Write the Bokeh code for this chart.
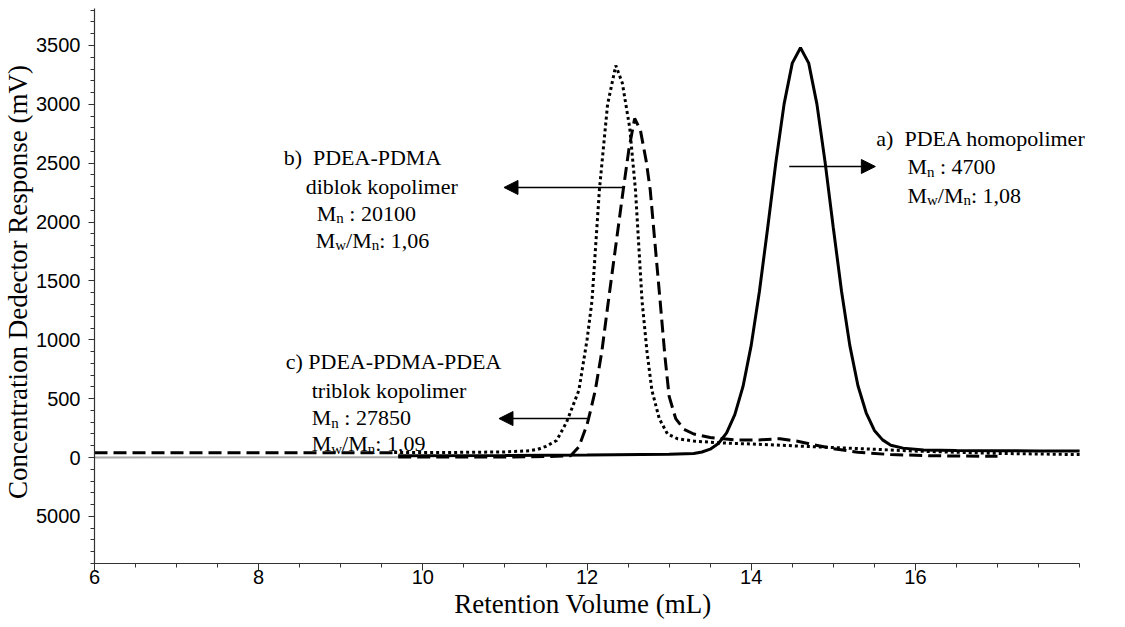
from bokeh.plotting import figure
from bokeh.models import FixedTicker, Arrow, NormalHead, Range1d, Label
from bokeh.embed import file_html
from bokeh.resources import INLINE

# ---------------- data ----------------
grey_x = [6.0, 9.7]
grey_y = [0, 3]

# a) PDEA homopolymer (solid)
solid_x = [9.7, 11.0, 12.0, 13.0, 13.3, 13.4, 13.5, 13.6, 13.7, 13.8, 13.9, 14.0, 14.1, 14.2,
           14.3, 14.4, 14.5, 14.6, 14.7, 14.8, 14.9, 15.0, 15.1, 15.2, 15.3, 15.4, 15.5, 15.6,
           15.7, 15.85, 16.1, 16.5, 17.0, 17.5, 18.0]
solid_y = [15, 18, 22, 28, 35, 47, 71, 119, 209, 364, 604, 955, 1413, 1950,
           2507, 3002, 3350, 3480, 3350, 3002, 2507, 1950, 1413, 955, 610, 380, 230, 150,
           105, 80, 65, 60, 58, 56, 55]

# b) PDEA-PDMA diblock (dotted)
dot_x = [9.65, 10.5, 11.0, 11.3, 11.4, 11.5, 11.63, 11.75, 11.9, 12.0, 12.06, 12.15, 12.25,
         12.35, 12.43, 12.52, 12.59, 12.63, 12.67, 12.73, 12.79, 12.88, 12.98, 13.1, 13.3,
         13.6, 14.0, 14.5, 15.0, 15.5, 16.0, 16.5, 17.0, 17.5, 18.0]
dot_y = [42, 44, 48, 58, 70, 95, 145, 300, 570, 1000, 1330, 2270, 3000,
         3330, 3180, 2800, 2270, 1800, 1330, 900, 570, 330, 200, 160, 140,
         125, 115, 100, 85, 70, 55, 45, 35, 30, 25]

# c) PDEA-PDMA-PDEA triblock (dashed): early segment and main trace
dash1_x = [6.0, 9.65]
dash1_y = [40, 40]
dash_x = [9.7, 11.0, 11.5, 11.8, 11.9, 12.0, 12.05, 12.1, 12.18, 12.26, 12.35, 12.44, 12.51,
          12.58, 12.65, 12.72, 12.77, 12.83, 12.89, 12.95, 13.0, 13.08, 13.18, 13.3, 13.5,
          13.8, 14.1, 14.35, 14.55, 14.75, 15.0, 15.3, 15.7, 16.2, 17.0]
dash_y = [5, 5, 8, 15, 90, 280, 420, 570, 900, 1330, 1800, 2270, 2620,
          2880, 2780, 2520, 2270, 1800, 1330, 850, 520, 330, 240, 200, 170,
          150, 150, 160, 140, 110, 75, 45, 25, 15, 10]

x_major = [6, 8, 10, 12, 14, 16]
y_major = [-500, 0, 500, 1000, 1500, 2000, 2500, 3000, 3500]
y_label_override = {-500: "5000"}

NB = "\u00a0"

# ---------------- figure ----------------
p = figure(width=1125, height=627, output_backend="svg", toolbar_location=None,
           x_range=Range1d(6, 18.559), y_range=Range1d(-900, 3882),
           min_border_left=93, min_border_right=0, min_border_top=0, min_border_bottom=64)
p.outline_line_color = None
p.grid.visible = False
p.background_fill_color = "white"

p.line(grey_x, grey_y, line_color="#a8a8a8", line_width=2)
p.line(solid_x, solid_y, line_color="black", line_width=3)
p.line(dot_x, dot_y, line_color="black", line_width=3, line_dash="3 3")
p.line(dash1_x, dash1_y, line_color="black", line_width=3, line_dash="13 6")
p.line(dash_x, dash_y, line_color="black", line_width=3, line_dash="13 6")

# axes
SERIF = "Liberation Serif"
xa = p.xaxis[0]
xa.ticker = FixedTicker(ticks=x_major, minor_ticks=[6 + 0.5 * i for i in range(25)])
xa.bounds = (6, 18)
# trailing no-break spaces shift the centred title left, onto the axis' own centre
xa.axis_label = "Retention Volume (mL)" + NB * 8
ya = p.yaxis[0]
ya.ticker = FixedTicker(ticks=y_major, minor_ticks=list(range(-900, 3900, 100)))
ya.bounds = (-900, 3814)
ya.major_label_overrides = y_label_override
ya.axis_label = "Concentration Dedector Response (mV)"

for ax in (xa, ya):
    ax.axis_line_color = "#333333"
    ax.axis_line_width = 1.2
    ax.major_tick_line_color = "#333333"
    ax.minor_tick_line_color = "#333333"
    ax.major_tick_in = 0
    ax.minor_tick_in = 0
    ax.minor_tick_out = 4
    ax.major_label_text_font = "Liberation Sans"
    ax.major_label_text_color = "black"
    ax.major_label_text_font_size = "20px"
    ax.axis_label_text_font = SERIF
    ax.axis_label_text_font_style = "normal"
    ax.axis_label_text_color = "black"
    ax.axis_label_text_font_size = "27px"

xa.major_tick_out = 7
xa.major_label_standoff = -1
xa.axis_label_standoff = 2
ya.major_tick_out = 6
ya.major_label_standoff = 8
ya.axis_label_standoff = 0

# ---------------- annotations ----------------
W = {'M': 0.889, 'n': 0.5, 'w': 0.722, '/': 0.278, ' ': 0.25, ':': 0.278, ',': 0.25}
FS, SS = 22, 15

def put(x, y, parts):
    off = 0.0
    for s, is_sub in parts:
        size = SS if is_sub else FS
        lead = len(s) - len(s.lstrip(" "))
        off += lead * W[' '] * size
        s = s.lstrip(" ")
        p.add_layout(Label(x=x, y=y, text=s, x_offset=off, y_offset=-5 if is_sub else 0,
                           text_font=SERIF, text_font_size=f"{size}px", text_color="black",
                           text_align="left", text_baseline="alphabetic"))
        off += sum(W.get(c, 0.5) for c in s) * size

# a) homopolymer
put(15.524, 2710, [("a)" + NB + " PDEA homopolimer", False)])
put(15.902, 2472, [("M", False), ("n", True), (" : 4700", False)])
put(15.902, 2226, [("M", False), ("w", True), ("/M", False), ("n", True), (": 1,08", False)])
# b) diblock
put(8.304, 2549, [("b)" + NB + " PDEA-PDMA", False)])
put(8.572, 2302, [("diblok kopolimer", False)])
put(8.707, 2073, [("M", False), ("n", True), (" : 20100", False)])
put(8.694, 1844, [("M", False), ("w", True), ("/M", False), ("n", True), (": 1,06", False)])
# c) triblock
put(8.329, 816, [("c) PDEA-PDMA-PDEA", False)])
put(8.646, 569, [("triblok kopolimer", False)])
put(8.646, 340, [("M", False), ("n", True), (" : 27850", False)])
put(8.646, 119, [("M", False), ("w", True), ("/M", False), ("n", True), (": 1,09", False)])

for xs, xe, yy in [(14.463, 15.512, 2472), (12.451, 10.988, 2294), (12.0, 10.927, 331)]:
    p.add_layout(Arrow(x_start=xs, y_start=yy, x_end=xe, y_end=yy, line_width=1.5,
                       line_color="black",
                       end=NormalHead(size=14, fill_color="black", line_color="black")))

open("out.html", "w").write(file_html(p, INLINE))
